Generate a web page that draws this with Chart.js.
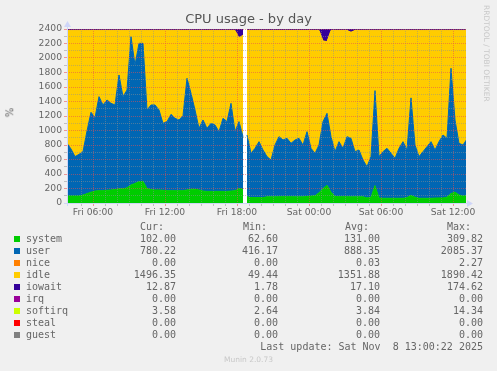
<!DOCTYPE html>
<html>
<head>
<meta charset="utf-8">
<script src="https://cdn.jsdelivr.net/npm/chart.js@4.4.1/dist/chart.umd.min.js"></script>
<style>
  body { margin: 0; background: #f0f0f0; }
  #wrap { position: relative; width: 497px; height: 371px; font-family: "DejaVu Sans", sans-serif; color: #666; overflow: hidden; }
  #wrap canvas { position: absolute; left: 0; top: 0; }
  .txt { position: absolute; white-space: pre; }
  .mono { font-family: "DejaVu Sans Mono", monospace; font-size: 10px; line-height: 12px; }
  .num { text-align: right; width: 90px; }
  .swatch { position: absolute; width: 6px; height: 6px; }
</style>
</head>
<body>
<div id="wrap">
  <canvas id="cpuChart" width="497" height="371"></canvas>
  <div class="txt" style="left:0;width:497px;text-align:center;top:11px;font-size:13px;color:#555">CPU usage - by day</div>
  <div class="txt" style="left:5px;top:107px;font-size:10px;transform:rotate(-90deg)">%</div>
  <div class="txt" style="left:482px;top:5px;font-size:7.5px;color:#c8c8c8;writing-mode:vertical-rl">RRDTOOL / TOBI OETIKER</div>
  <div id="legend"></div>
  <div class="txt" style="left:0;width:497px;text-align:center;top:355px;font-size:7.5px;color:#c8c8c8">Munin 2.0.73</div>
</div>
<script>
// hours since Fri 00:00, one sample every 20 minutes; null marks the missing data gap
const START = 23 / 6;
const GAP_AFTER = 44;
const times = [];
for (let i = 0; i <= 100; i++) {
  times.push(START + i / 3);
  if (i === GAP_AFTER) times.push(START + (i + 0.5) / 3);
}

const system = [
  97, 97, 97, 97, 110, 130, 150, 165, 170, 170,
  175, 180, 185, 195, 195, 210, 250, 270, 295, 300,
  200, 185, 180, 180, 175, 170, 170, 170, 170, 170,
  180, 190, 190, 180, 165, 160, 160, 160, 160, 160,
  160, 165, 170, 200, 190, null,
  87, 75, 75, 75, 75,
  85, 85, 85, 87, 87, 87, 87, 85, 85, 85,
  90, 95, 100, 140, 200, 245, 150, 90, 87, 87,
  87, 85, 85, 85, 85, 70, 80, 240, 70, 65,
  65, 65, 65, 65, 65, 75, 105, 80, 65, 65,
  65, 65, 68, 70, 70, 80, 130, 150, 110, 95,
  102
];

const user = [
  726, 648, 543, 574, 598, 863, 1101, 1012, 1297, 1182,
  1246, 1195, 1167, 1571, 1272, 1349, 2044, 1634, 1907, 1902,
  1083, 1167, 1172, 1103, 924, 952, 1053, 998, 975, 1035,
  1540, 1323, 1093, 850, 980, 870, 939, 916, 824, 1008,
  962, 1210, 814, 922, 725, null,
  851, 610, 679, 771, 656,
  555, 508, 715, 828, 782, 805, 736, 784, 807, 715,
  894, 659, 585, 660, 922, 992, 765, 618, 759, 667,
  828, 807, 623, 646, 508, 431, 560, 1310, 570, 643,
  689, 620, 551, 689, 781, 656, 1345, 720, 575, 643,
  712, 781, 663, 776, 868, 812, 1728, 995, 713, 705,
  780
];

const idle = [
  1558, 1636, 1741, 1710, 1673, 1388, 1130, 1204, 914, 1029,
  960, 1006, 1029, 615, 914, 822, 87, 477, 179, 179,
  1098, 1029, 1029, 1098, 1282, 1259, 1158, 1213, 1236, 1176,
  661, 868, 1098, 1351, 1236, 1351, 1282, 1305, 1397, 1213,
  1259, 1006, 1397, 1154, 1401, null,
  1443, 1696, 1627, 1535, 1650,
  1741, 1788, 1581, 1466, 1512, 1489, 1558, 1512, 1489, 1581,
  1397, 1627, 1696, 1581, 1114, 989, 1466, 1673, 1535, 1627,
  1466, 1464, 1673, 1650, 1788, 1880, 1741, 831, 1741, 1673,
  1627, 1696, 1765, 1627, 1535, 1650, 931, 1581, 1741, 1673,
  1604, 1535, 1650, 1535, 1443, 1489, 523, 1236, 1558, 1581,
  1501
];

const iowait = [
  15, 20, 12, 18, 25, 14, 12, 22, 15, 13,
  18, 12, 15, 20, 14, 12, 16, 13, 12, 14,
  18, 22, 14, 12, 15, 20, 13, 12, 16, 14,
  12, 15, 18, 22, 13, 12, 15, 20, 14, 12,
  16, 18, 14, 120, 80, null,
  20, 14, 12, 15, 18,
  13, 12, 15, 14, 12, 16, 22, 14, 12, 15,
  18, 13, 12, 15, 160, 170, 20, 13, 12, 15,
  14, 40, 15, 12, 14, 16, 12, 18, 14, 12,
  15, 20, 14, 12, 16, 13, 18, 15, 12, 14,
  16, 12, 14, 18, 13, 15, 12, 14, 16, 13,
  13
];

const softirq = [
  4, 4, 5, 4, 4, 3, 4, 4, 5, 4,
  4, 4, 3, 4, 5, 4, 4, 4, 4, 5,
  4, 3, 4, 4, 4, 5, 4, 4, 3, 4,
  4, 5, 4, 4, 4, 3, 4, 4, 5, 4,
  4, 4, 4, 5, 4, null,
  4, 3, 4, 4, 4,
  5, 4, 4, 3, 4, 4, 4, 5, 4, 4,
  4, 3, 4, 4, 14, 6, 4, 4, 3, 4,
  4, 5, 4, 4, 4, 3, 4, 4, 5, 4,
  4, 4, 3, 4, 4, 5, 4, 4, 4, 3,
  4, 4, 5, 4, 4, 4, 3, 4, 4, 4,
  4
];

const yTicks = [0, 200, 400, 600, 800, 1000, 1200, 1400, 1600, 1800, 2000, 2200, 2400];

// legend table
const legendNames = ["system", "user", "nice", "idle", "iowait", "irq", "softirq", "steal", "guest"];
const legendColors = ["#00cc00", "#0066b3", "#ff8000", "#ffcc00", "#330099", "#990099", "#ccff00", "#ff0000", "#808080"];
const legendCur = ["102.00", "780.22", "0.00", "1496.35", "12.87", "0.00", "3.58", "0.00", "0.00"];
const legendMin = ["62.60", "416.17", "0.00", "49.44", "1.78", "0.00", "2.64", "0.00", "0.00"];
const legendAvg = ["131.00", "888.35", "0.03", "1351.88", "17.10", "0.00", "3.84", "0.00", "0.00"];
const legendMax = ["309.82", "2085.37", "2.27", "1890.42", "174.62", "0.00", "14.34", "0.00", "0.00"];

const GRID = "rgba(143,143,143,0.5)";
const MGRID = "rgba(232,79,79,0.55)";
const AXIS = "#cfd6f8";

function renderLegend() {
  const el = document.getElementById("legend");
  const cols = [[legendCur, 176], [legendMin, 278], [legendAvg, 380], [legendMax, 483]];
  const heads = [["Cur:", 140], ["Min:", 243], ["Avg:", 345], ["Max:", 447]];
  let html = heads.map(([h, x]) => `<div class="txt mono" style="left:${x}px;top:221px">${h}</div>`).join("");
  html += legendNames.map((name, i) => {
    const top = 233 + i * 12;
    let row = `<div class="swatch" style="left:14px;top:${top + 3}px;background:${legendColors[i]}"></div>`;
    row += `<div class="txt mono" style="left:26px;top:${top}px">${name}</div>`;
    row += cols.map(([vals, right]) =>
      `<div class="txt mono num" style="left:${right - 90}px;top:${top}px">${vals[i]}</div>`).join("");
    return row;
  }).join("");
  html += `<div class="txt mono num" style="left:233px;width:250px;top:341px">Last update: Sat Nov  8 13:00:22 2025</div>`;
  el.innerHTML = html;
}

const canvasBg = {
  id: "canvasBg",
  beforeDraw(chart) {
    const { ctx, chartArea: a } = chart;
    ctx.save();
    ctx.fillStyle = "#ffffff";
    ctx.fillRect(a.left, a.top, a.width, a.height);
    ctx.restore();
  }
};

const axisArrows = {
  id: "axisArrows",
  afterDraw(chart) {
    const { ctx, chartArea: a } = chart;
    ctx.save();
    ctx.strokeStyle = AXIS;
    ctx.fillStyle = AXIS;
    ctx.lineWidth = 1;
    ctx.beginPath();
    ctx.moveTo(a.left - 3, a.bottom + 0.5);
    ctx.lineTo(a.right + 3, a.bottom + 0.5);
    ctx.moveTo(a.left + 0.5, a.bottom + 3);
    ctx.lineTo(a.left + 0.5, a.top - 3);
    ctx.stroke();
    ctx.beginPath();
    ctx.moveTo(a.left + 0.5, a.top - 8);
    ctx.lineTo(a.left - 3, a.top - 2);
    ctx.lineTo(a.left + 4, a.top - 2);
    ctx.fill();
    ctx.beginPath();
    ctx.moveTo(a.right + 7, a.bottom + 0.5);
    ctx.lineTo(a.right + 1, a.bottom - 3);
    ctx.lineTo(a.right + 1, a.bottom + 4);
    ctx.fill();
    ctx.restore();
  }
};

function series(values, color, fill) {
  return {
    data: values.map((v, i) => ({ x: times[i], y: v })),
    backgroundColor: color,
    borderColor: color,
    borderWidth: 1,
    pointRadius: 0,
    tension: 0,
    fill: fill,
    spanGaps: false,
  };
}

function hourLabel(value) {
  if (Math.abs(value - Math.round(value)) > 1e-6 || Math.round(value) % 6 !== 0) return "";
  const h = Math.round(value);
  const day = h < 24 ? "Fri" : "Sat";
  return `${day} ${String(h % 24).padStart(2, "0")}:00`;
}

function renderChart() {
  new Chart(document.getElementById("cpuChart"), {
    type: "line",
    data: {
      datasets: [
        series(system, "#00cc00", "origin"),
        series(user, "#0066b3", "-1"),
        series(idle, "#ffcc00", "-1"),
        series(iowait, "#330099", "-1"),
        series(softirq, "#ccff00", "-1"),
      ],
    },
    options: {
      responsive: false,
      animation: false,
      events: [],
      layout: { padding: { left: 0, top: 29, right: 31, bottom: 148 } },
      plugins: { legend: { display: false }, tooltip: { enabled: false } },
      scales: {
        x: {
          type: "linear",
          min: START,
          max: 37 + 1 / 12,
          afterFit: scale => { scale.height = 20; },
          border: { display: false, dash: [1, 1] },
          grid: {
            z: 1,
            tickLength: 3,
            color: c => {
              const v = c.tick.value;
              if (Math.abs(v - Math.round(v)) > 1e-6) return "rgba(0,0,0,0)";
              return Math.round(v) % 6 === 0 ? MGRID : GRID;
            },
          },
          ticks: {
            stepSize: 1,
            autoSkip: false,
            maxRotation: 0,
            padding: 1,
            color: "#666",
            font: { family: "DejaVu Sans", size: 9.2 },
            callback: hourLabel,
          },
        },
        y: {
          stacked: true,
          min: 0,
          max: 2400,
          afterFit: scale => { scale.width = 67; },
          border: { display: false, dash: [1, 1] },
          grid: {
            z: 1,
            tickLength: 3,
            color: c => (yTicks.includes(c.tick.value) ? MGRID : GRID),
          },
          ticks: {
            stepSize: 100,
            autoSkip: false,
            padding: 2,
            color: "#666",
            font: { family: "DejaVu Sans", size: 9.2 },
            callback: v => (yTicks.includes(v) ? String(v) : ""),
          },
        },
      },
    },
    plugins: [canvasBg, axisArrows],
  });
}

document.addEventListener("DOMContentLoaded", () => {
  renderLegend();
  renderChart();
});
</script>
</body>
</html>
